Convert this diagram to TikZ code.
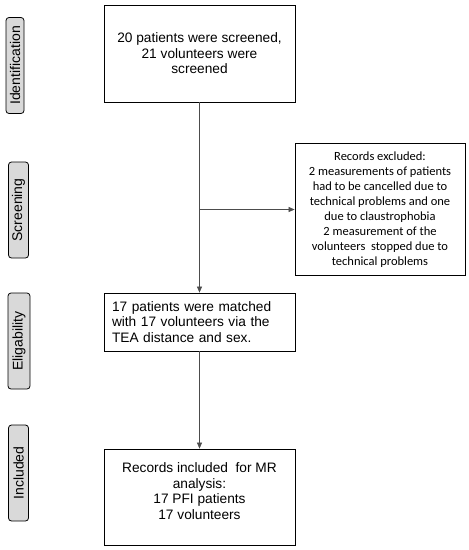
\documentclass[tikz,border=0pt]{standalone}
\usepackage{fontspec}
\setmainfont{Liberation Sans}
\newfontfamily\calibri{Carlito}
\usetikzlibrary{arrows.meta}
\definecolor{stagegray}{HTML}{D9D9D9}
\begin{document}
\begin{tikzpicture}[
    x=1pt, y=-1pt,
    box/.style={rectangle, draw, thick, inner sep=8pt, font=\fontsize{13.7}{15.5}\selectfont},
    flowbox/.style={box, minimum width=191pt, align=center},
    exclbox/.style={box, minimum width=170pt, minimum height=131pt, align=center, font=\calibri\fontsize{12.5}{15}\selectfont},
    stage/.style={rectangle, rounded corners=3pt, draw, thick, fill=stagegray, rotate=90, minimum height=20pt, minimum width=96pt, inner sep=1pt, font=\fontsize{14}{16}\selectfont},
    arrow/.style={-{Triangle[length=6pt, width=5pt]}, draw=black!70, semithick}
]
\useasboundingbox (0,0) rectangle (469,550);

% Stages
\node[stage, minimum height=18pt] (identification) at (15,65.5) {Identification};
\node[stage] (screening) at (18.5,210) {Screening};
\node[stage, minimum height=22pt] (eligability) at (19,341) {Eligability};
\node[stage] (included) at (18.5,473) {Included};

% Flow boxes
\node[flowbox, minimum height=97pt] (screened) at (199.5,53.5) {20 patients were screened,\\21 volunteers were\\screened};
\node[exclbox] (excluded) at (380,209.5) {Records excluded:\\2 measurements of patients\\had to be cancelled due to\\technical problems and one\\due to claustrophobia\\2 measurement of the\\volunteers \ stopped due to\\technical problems};
\node[flowbox, minimum height=58pt, align=left, text width=175pt] (matched) at (199.5,322) {17 patients were matched\\with 17 volunteers via the\\TEA distance and sex.};
\node[flowbox, minimum height=96pt] (analysis) at (199.5,497) {Records included \ for MR\\analysis:\\17 PFI patients\\17 volunteers\\[-3.5pt]};

% Connections
\coordinate (split) at (screened.south |- excluded.west);
\draw[arrow] (screened) -- (matched);
\draw[arrow] (split) -- (excluded);
\draw[arrow] (matched) -- (analysis);

\end{tikzpicture}
\end{document}
